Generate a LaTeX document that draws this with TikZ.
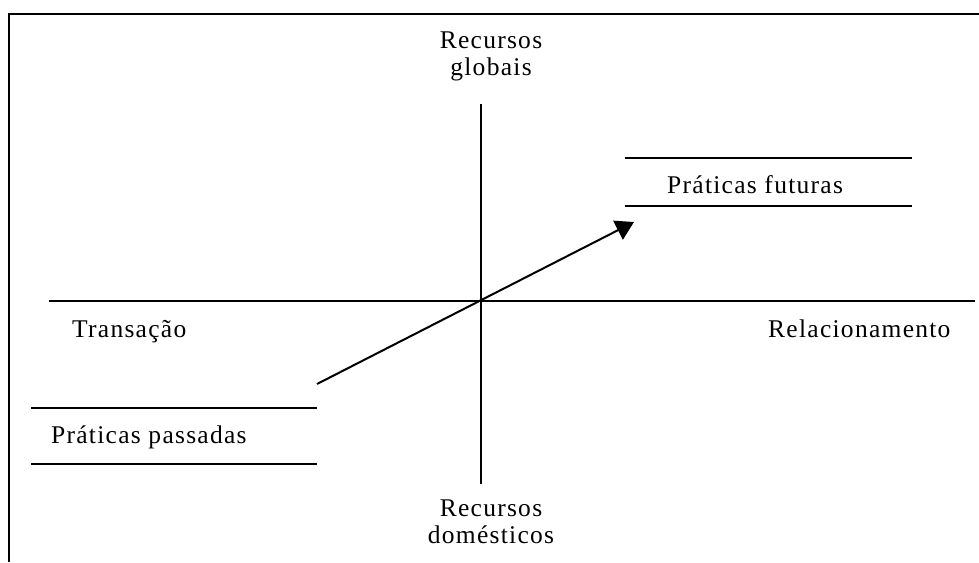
\documentclass[tikz,border=0pt]{standalone}
\usepackage{fontspec}
\setmainfont{Liberation Serif}
\newfontfamily\labfont[LetterSpace=5]{Liberation Serif}
\usetikzlibrary{arrows.meta}
\tikzset{
  lab/.style={inner sep=0pt, font=\labfont\fontsize{25.5}{27}\selectfont, text=black},
  axis/.style={line width=2pt, black},
  frame/.style={line width=2.2pt, black},
  bar/.style={line width=2pt, black},
  move/.style={line width=2pt, black, -{Triangle[length=18pt,width=21pt]}}
}
\begin{document}
\begin{tikzpicture}[x=1pt,y=-1pt]
\useasboundingbox (0,0) rectangle (979,562);
% frame (top and left edges only)
\draw[frame] (9,562) -- (9,14) -- (979,14);
% axes
\coordinate (vtop) at (481,104);
\coordinate (vbot) at (481,484);
\coordinate (hl) at (49,301);
\coordinate (hr) at (975,301);
\draw[axis] (vtop) -- (vbot);
\draw[axis] (hl) -- (hr);
% labels
\node[lab, anchor=base, align=center] (glob) at (491,75) {Recursos\\globais};
\node[lab, anchor=base, align=center] (dom) at (491,543) {Recursos\\domésticos};
\node[lab, anchor=base west] (trans) at (72,337) {Transação};
\node[lab, anchor=base west] (rel) at (768,337) {Relacionamento};
% future practices
\coordinate (f1a) at (625,158); \coordinate (f1b) at (912,158);
\coordinate (f2a) at (625,206); \coordinate (f2b) at (912,206);
\draw[bar] (f1a) -- (f1b);
\draw[bar] (f2a) -- (f2b);
\node[lab, anchor=base west] (fut) at (667,193) {Práticas futuras};
% past practices
\coordinate (p1a) at (31,408); \coordinate (p1b) at (317,408);
\coordinate (p2a) at (31,464); \coordinate (p2b) at (317,464);
\draw[bar] (p1a) -- (p1b);
\draw[bar] (p2a) -- (p2b);
\node[lab, anchor=base west] (pas) at (51,443) {Práticas passadas};
% arrow
\coordinate (from) at (317,384);
\coordinate (to) at (634,222);
\draw[move] (from) -- (to);
\end{tikzpicture}
\end{document}
